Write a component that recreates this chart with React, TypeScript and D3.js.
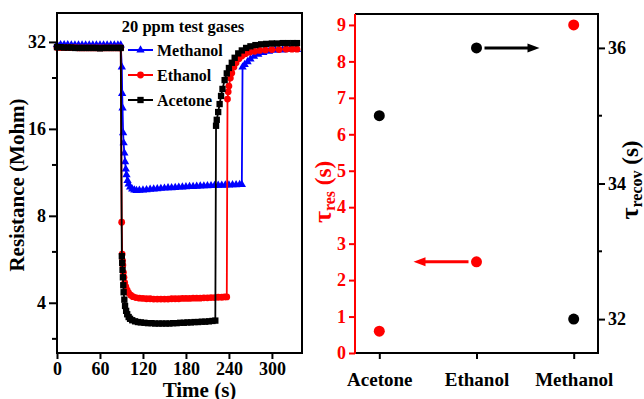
import React, { useEffect, useRef } from 'react'
import * as d3 from 'd3'

// left panel: resistance vs time, [t (s), R (Mohm)]
const methanol: [number, number][] = [
  [0, 31.3], [5, 31.3], [10, 31.3], [15, 31.3], [20, 31.2], [25, 31.2], [30, 31.2], [35, 31.2], [40, 31.2], [45, 31.2],
  [50, 31.2], [55, 31.2], [60, 31.2], [65, 31.2], [70, 31.2], [75, 31.2], [80, 31.2], [85, 31.2], [89, 31.2],
  [90.5, 26.2], [91, 21.2], [91.5, 18.9], [92.3, 15.5], [93, 14.3], [94, 13.2], [95, 12.3], [96, 11.6], [97, 11.1],
  [98.5, 10.6], [100, 10.3], [102, 10.05], [105, 9.9], [108, 9.82], [111, 9.78], [115, 9.8], [120, 9.82], [125, 9.85],
  [130, 9.88], [135, 9.9], [140, 9.92], [145, 9.95], [150, 9.97], [155, 10.0], [160, 10.0], [165, 10.02], [170, 10.05],
  [175, 10.06], [180, 10.08], [185, 10.1], [190, 10.1], [195, 10.12], [200, 10.14], [205, 10.15], [210, 10.16],
  [215, 10.17], [220, 10.18], [225, 10.2], [230, 10.2], [235, 10.22], [240, 10.22], [245, 10.24], [250, 10.25],
  [255, 10.26], [258, 10.27],
  [259, 26.2], [262, 26.7], [266, 27.3], [270, 27.9], [275, 28.5], [281, 29.0], [288, 29.4], [296, 29.7], [305, 29.9],
  [315, 30.0], [325, 30.1], [335, 30.1]
]

const ethanol: [number, number][] = [
  [0, 30.6], [5, 30.6], [10, 30.6], [15, 30.6], [20, 30.6], [25, 30.6], [30, 30.5], [35, 30.5], [40, 30.5], [45, 30.5],
  [50, 30.5], [55, 30.5], [60, 30.5], [65, 30.5], [70, 30.5], [75, 30.5], [80, 30.5], [85, 30.5], [89, 30.5],
  [90.3, 7.6], [91, 5.9], [91.5, 5.6], [92, 5.4], [92.7, 5.1], [93.5, 4.9], [94.5, 4.7], [96, 4.55], [98, 4.42],
  [100, 4.33], [103, 4.25], [106, 4.2], [110, 4.17], [115, 4.15], [120, 4.14], [125, 4.13], [130, 4.13], [135, 4.12],
  [140, 4.12], [145, 4.12], [150, 4.12], [155, 4.12], [160, 4.13], [165, 4.13], [170, 4.13], [175, 4.14], [180, 4.14],
  [185, 4.14], [190, 4.15], [195, 4.15], [200, 4.15], [205, 4.16], [210, 4.16], [215, 4.17], [220, 4.17], [225, 4.18],
  [230, 4.18], [234, 4.19], [237, 4.19],
  [238, 20.3], [239, 21.5], [240, 22.5], [242, 24], [244, 25], [247, 26.2], [250, 27.1], [254, 28], [258, 28.6],
  [263, 29.1], [269, 29.5], [276, 29.7], [283, 29.9], [291, 30.0], [300, 30.1], [310, 30.1], [320, 30.2], [328, 30.2],
  [335, 30.2]
]

const acetone: [number, number][] = [
  [0, 30.7], [5, 30.7], [10, 30.6], [15, 30.6], [20, 30.6], [25, 30.5], [30, 30.5], [35, 30.5], [40, 30.5], [45, 30.5],
  [50, 30.5], [55, 30.5], [60, 30.4], [65, 30.5], [70, 30.5], [75, 30.5], [80, 30.5], [85, 30.5], [89, 30.5],
  [90.5, 5.8], [91, 5.5], [91.5, 5.2], [92, 4.9], [92.5, 4.6], [93, 4.35], [94, 4.1], [95, 3.9], [96.5, 3.75], [98, 3.65],
  [100, 3.57], [102, 3.52], [105, 3.48], [109, 3.45], [113, 3.43], [117, 3.42], [122, 3.41], [127, 3.4], [132, 3.4],
  [137, 3.39], [142, 3.39], [147, 3.39], [152, 3.39], [157, 3.39], [162, 3.4], [167, 3.4], [172, 3.41], [177, 3.41],
  [182, 3.42], [187, 3.42], [192, 3.43], [197, 3.43], [202, 3.44], [207, 3.44], [212, 3.45], [217, 3.46], [221, 3.47],
  [222, 16.4], [223, 17.2], [225, 18.3], [227, 19.5], [229, 20.8], [231, 22], [234, 23.6], [237, 24.9], [240, 26],
  [244, 27.1], [248, 28.2], [253, 29.2], [258, 29.9], [264, 30.5], [270, 30.9], [277, 31.2], [285, 31.4], [292, 31.5],
  [300, 31.6], [307, 31.6], [315, 31.7], [322, 31.7], [330, 31.7], [335, 31.7]
]

const timeTicks = [0, 60, 120, 180, 240, 300]
const resTicks = [4, 8, 16, 32]
const resMinorTicks = [3, 6, 12, 24]

// right panel: response / recovery times
const gases = ['Acetone', 'Ethanol', 'Methanol']
const tauRes = [0.6, 2.5, 9.0]
const tauRecov = [35.0, 36.0, 32.0]
const resAxisTicks = [0, 1, 2, 3, 4, 5, 6, 7, 8, 9]
const recovTicks = [32, 34, 36]
const recovMinorTicks = [33, 35]

const FONT = "'Liberation Serif', 'Times New Roman', serif"

export default function App() {
  const ref = useRef<SVGSVGElement>(null)

  useEffect(() => {
    const svg = d3.select(ref.current)
    svg.selectAll('*').remove()

    // ---------- left panel ----------
    const L = { left: 57, right: 302, top: 13, bottom: 353 }
    const x = d3.scaleLinear().domain([0, 342]).range([L.left, L.right])
    const y = d3.scaleLog().base(2).domain([2.68, 40.3]).range([L.bottom, L.top])

    const left = svg.append('g')

    const series = [
      { name: 'Methanol', data: methanol, color: '#0000ff', marker: 'tri' },
      { name: 'Ethanol', data: ethanol, color: '#ff0000', marker: 'circle' },
      { name: 'Acetone', data: acetone, color: '#000000', marker: 'square' }
    ]

    const line = d3.line<[number, number]>()
      .x(function(d) { return x(d[0]) })
      .y(function(d) { return y(d[1]) })

    const triangle = d3.symbol().type(d3.symbolTriangle).size(30)
    const square = d3.symbol().type(d3.symbolSquare).size(40)
    const circle = d3.symbol().type(d3.symbolCircle).size(36)

    function drawMarker(g: any, cx: number, cy: number, kind: string, color: string) {
      const gen = kind === 'tri' ? triangle : kind === 'square' ? square : circle
      g.append('path')
        .attr('d', gen() as string)
        .attr('transform', 'translate(' + cx + ',' + cy + ')')
        .attr('fill', color)
    }

    series.forEach(function(s) {
      const g = left.append('g')
      g.append('path')
        .datum(s.data)
        .attr('d', line)
        .attr('fill', 'none')
        .attr('stroke', s.color)
        .attr('stroke-width', 1.8)
      s.data.forEach(function(d) {
        drawMarker(g, x(d[0]), y(d[1]), s.marker, s.color)
      })
    })

    // frame
    left.append('rect')
      .attr('x', L.left).attr('y', L.top)
      .attr('width', L.right - L.left).attr('height', L.bottom - L.top)
      .attr('fill', 'none').attr('stroke', '#000').attr('stroke-width', 2)

    // x axis
    const xAxis = left.append('g')
      .attr('transform', 'translate(0,' + L.bottom + ')')
      .call(d3.axisBottom(x).tickValues(timeTicks).tickSize(6).tickSizeOuter(0).tickPadding(3))
    xAxis.select('.domain').remove()
    xAxis.selectAll('line').attr('stroke-width', 2)
    xAxis.selectAll('text')
      .attr('font-family', FONT).attr('font-size', 18).attr('font-weight', 'bold').attr('fill', '#000')

    // y axis
    const yAxis = left.append('g')
      .attr('transform', 'translate(' + L.left + ',0)')
      .call(d3.axisLeft(y).tickValues(resTicks).tickFormat(d3.format('d')).tickSize(8).tickSizeOuter(0).tickPadding(3))
    yAxis.select('.domain').remove()
    yAxis.selectAll('line').attr('stroke-width', 2)
    yAxis.selectAll('text')
      .attr('font-family', FONT).attr('font-size', 18).attr('font-weight', 'bold').attr('fill', '#000')
    yAxis.selectAll('.minor')
      .data(resMinorTicks).enter().append('line')
      .attr('x1', -5).attr('x2', 0)
      .attr('y1', function(d) { return y(d) }).attr('y2', function(d) { return y(d) })
      .attr('stroke', '#000').attr('stroke-width', 2)

    left.append('text')
      .attr('transform', 'translate(24,' + 185 + ') rotate(-90)')
      .attr('text-anchor', 'middle')
      .attr('font-family', FONT).attr('font-size', 21).attr('font-weight', 'bold')
      .text('Resistance (Mohm)')

    left.append('text')
      .attr('x', (L.left + L.right) / 2 + 20).attr('y', 397)
      .attr('text-anchor', 'middle')
      .attr('font-family', FONT).attr('font-size', 21).attr('font-weight', 'bold')
      .text('Time (s)')

    // legend
    const leg = left.append('g')
    leg.append('text')
      .attr('x', 183).attr('y', 32).attr('text-anchor', 'middle')
      .attr('font-family', FONT).attr('font-size', 16.5).attr('font-weight', 'bold')
      .text('20 ppm test gases')
    series.forEach(function(s, i) {
      const ly = 50 + i * 25
      leg.append('line')
        .attr('x1', 128).attr('x2', 153).attr('y1', ly).attr('y2', ly)
        .attr('stroke', s.color).attr('stroke-width', 2)
      drawMarker(leg, 140.5, ly, s.marker, s.color)
      leg.append('text')
        .attr('x', 157).attr('y', ly + 6)
        .attr('font-family', FONT).attr('font-size', 16).attr('font-weight', 'bold')
        .text(s.name)
    })

    // ---------- right panel ----------
    const R = { left: 355, right: 598, top: 14, bottom: 353 }
    const xc = d3.scalePoint<string>().domain(gases).range([R.left, R.right]).padding(0.25)
    const yl = d3.scaleLinear().domain([0, 9.3]).range([R.bottom, R.top])
    const yr = d3.scaleLinear().domain([31.5, 36.5]).range([R.bottom, R.top])

    const right = svg.append('g')

    // frame: top, right, bottom black; left red
    right.append('path')
      .attr('d', 'M' + R.left + ',' + R.top + 'H' + R.right + 'V' + R.bottom + 'H' + R.left)
      .attr('fill', 'none').attr('stroke', '#000').attr('stroke-width', 2)
    right.append('line')
      .attr('x1', R.left).attr('x2', R.left).attr('y1', R.top).attr('y2', R.bottom + 1)
      .attr('stroke', '#ff0000').attr('stroke-width', 2)

    const cAxis = right.append('g')
      .attr('transform', 'translate(0,' + R.bottom + ')')
      .call(d3.axisBottom(xc).tickSize(6).tickSizeOuter(0).tickPadding(14))
    cAxis.select('.domain').remove()
    cAxis.selectAll('line').attr('stroke-width', 2)
    cAxis.selectAll('text')
      .attr('font-family', FONT).attr('font-size', 19).attr('font-weight', 'bold').attr('fill', '#000')

    const lAxis = right.append('g')
      .attr('transform', 'translate(' + R.left + ',0)')
      .call(d3.axisLeft(yl).tickValues(resAxisTicks).tickSize(6).tickSizeOuter(0).tickPadding(3))
    lAxis.select('.domain').remove()
    lAxis.selectAll('line').attr('stroke', '#ff0000').attr('stroke-width', 2)
    lAxis.selectAll('text')
      .attr('font-family', FONT).attr('font-size', 18).attr('font-weight', 'bold').attr('fill', '#ff0000')

    const rAxis = right.append('g')
      .attr('transform', 'translate(' + R.right + ',0)')
      .call(d3.axisRight(yr).tickValues(recovTicks).tickFormat(d3.format('d')).tickSize(7).tickSizeOuter(0).tickPadding(3))
    rAxis.select('.domain').remove()
    rAxis.selectAll('line').attr('stroke-width', 2)
    rAxis.selectAll('text')
      .attr('font-family', FONT).attr('font-size', 18).attr('font-weight', 'bold').attr('fill', '#000')
    rAxis.selectAll('.minor')
      .data(recovMinorTicks).enter().append('line')
      .attr('x1', 0).attr('x2', 4)
      .attr('y1', function(d) { return yr(d) }).attr('y2', function(d) { return yr(d) })
      .attr('stroke', '#000').attr('stroke-width', 2)

    // points
    right.selectAll('.res')
      .data(gases).enter().append('circle')
      .attr('cx', function(d) { return xc(d) as number })
      .attr('cy', function(d, i) { return yl(tauRes[i]) })
      .attr('r', 5.5).attr('fill', '#ff0000')
    right.selectAll('.recov')
      .data(gases).enter().append('circle')
      .attr('cx', function(d) { return xc(d) as number })
      .attr('cy', function(d, i) { return yr(tauRecov[i]) })
      .attr('r', 5.5).attr('fill', '#000')

    // arrows pointing to the axis each series belongs to
    const ex = xc('Ethanol') as number
    const by = yr(tauRecov[1])
    right.append('line')
      .attr('x1', ex + 8).attr('x2', ex + 54).attr('y1', by).attr('y2', by)
      .attr('stroke', '#000').attr('stroke-width', 3)
    right.append('path')
      .attr('d', 'M' + (ex + 63) + ',' + by + 'L' + (ex + 51) + ',' + (by - 4.5) + 'L' + (ex + 51) + ',' + (by + 4.5) + 'Z')
      .attr('fill', '#000')
    const ry = yl(tauRes[1])
    right.append('line')
      .attr('x1', ex - 8).attr('x2', ex - 54).attr('y1', ry).attr('y2', ry)
      .attr('stroke', '#ff0000').attr('stroke-width', 3)
    right.append('path')
      .attr('d', 'M' + (ex - 63) + ',' + ry + 'L' + (ex - 51) + ',' + (ry - 4.5) + 'L' + (ex - 51) + ',' + (ry + 4.5) + 'Z')
      .attr('fill', '#ff0000')

    // axis titles: tau with subscript, rotated
    function tauTitle(cx: number, cy: number, sub: string, color: string) {
      const t = right.append('text')
        .attr('transform', 'translate(' + cx + ',' + cy + ') rotate(-90)')
        .attr('text-anchor', 'middle')
        .attr('font-family', FONT).attr('font-weight', 'bold').attr('fill', color)
      t.append('tspan').attr('font-size', 26).text('τ')
      t.append('tspan').attr('font-size', 16).attr('baseline-shift', '-4').text(sub)
      t.append('tspan').attr('font-size', 23).text(' (s)')
    }
    tauTitle(331, 192, 'res', '#ff0000')
    tauTitle(638, 180, 'recov', '#000')
  }, [])

  return (
    <svg ref={ref} width={644} height={399}
      style={{ position: 'absolute', left: 0, top: 0, background: '#fff' }} />
  )
}
